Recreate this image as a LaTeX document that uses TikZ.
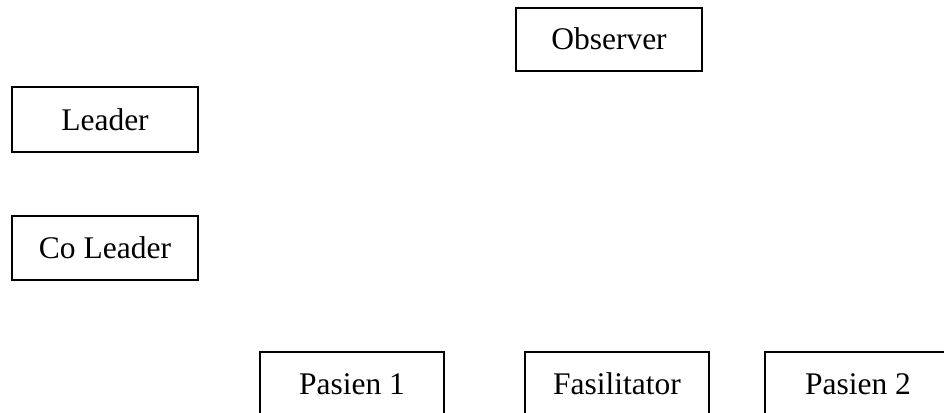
\documentclass[tikz,border=0pt]{standalone}
\usepackage{fontspec}
\setmainfont{Liberation Serif}
\begin{document}
\begin{tikzpicture}[x=1pt,y=-1pt,
  role/.style={draw=black, line width=1.6pt, inner sep=0pt,
    minimum width=186pt, minimum height=64pt,
    font=\fontsize{31.5}{36}\selectfont, text height=21pt, text depth=0pt}]
\clip (0,0) rectangle (944,412);
\fill[white] (0,0) rectangle (944,412);
\node[role, minimum height=63pt] (observer) at (609,39.5) {Observer};
\node[role, minimum height=65pt] (leader) at (105,119.5) {Leader};
\node[role] (coleader) at (105,248) {Co Leader};
\node[role, minimum width=184pt] (pasien1) at (352,384) {Pasien 1};
\node[role, minimum width=184pt] (fasilitator) at (617,384) {Fasilitator};
\node[role] (pasien2) at (858,384) {Pasien 2};
\end{tikzpicture}
\end{document}
